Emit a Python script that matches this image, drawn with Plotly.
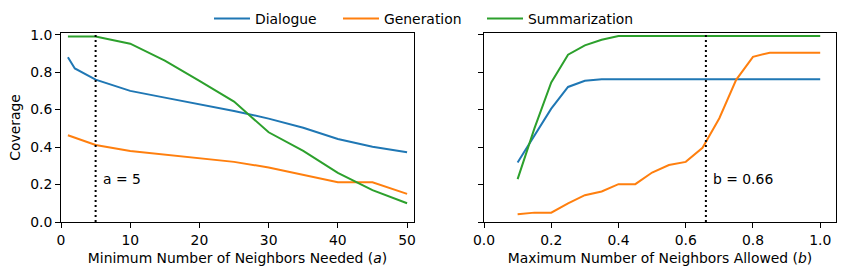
import plotly.graph_objects as go

# Left panel data: minimum number of neighbors needed (a)
a_values = [1, 2, 5, 10, 15, 20, 25, 30, 35, 40, 45, 50]
a_dialogue = [0.88, 0.82, 0.76, 0.70, 0.664, 0.628, 0.593, 0.552, 0.503, 0.443, 0.402, 0.372]
a_generation = [0.463, 0.45, 0.411, 0.379, 0.361, 0.343, 0.321, 0.291, 0.252, 0.212, 0.212, 0.15]
a_summarization = [0.99, 0.99, 0.99, 0.952, 0.862, 0.754, 0.643, 0.479, 0.38, 0.262, 0.17, 0.10]

# Right panel data: maximum number of neighbors allowed (b)
b_values = [0.1, 0.15, 0.2, 0.25, 0.3, 0.35, 0.4, 0.45, 0.5, 0.55, 0.6, 0.65,
            0.7, 0.75, 0.8, 0.85, 0.9, 0.95, 1.0]
b_dialogue = [0.318, 0.46, 0.605, 0.721, 0.754, 0.762, 0.762, 0.762, 0.762, 0.762,
              0.762, 0.762, 0.762, 0.762, 0.762, 0.762, 0.762, 0.762, 0.762]
b_generation = [0.041, 0.05, 0.05, 0.10, 0.143, 0.163, 0.202, 0.202, 0.264, 0.304,
                0.321, 0.396, 0.554, 0.759, 0.882, 0.904, 0.904, 0.904, 0.904]
b_summarization = [0.229, 0.50, 0.745, 0.893, 0.943, 0.973, 0.993, 0.993, 0.993, 0.993,
                   0.993, 0.993, 0.993, 0.993, 0.993, 0.993, 0.993, 0.993, 0.993]

A_CHOSEN = 5
B_CHOSEN = 0.66

series_names = ["Dialogue", "Generation", "Summarization"]
colors = ["#1f77b4", "#ff7f0e", "#2ca02c"]
legend_ids = ["legend", "legend2", "legend3"]

W, H = 849, 279
legend_x = [209 / W, 338 / W, 482 / W]  # left edge of each legend entry (paper fraction)
FONT = "DejaVu Sans"
FS = 13.9
fig = go.Figure()

for name, color, ys, lg in zip(series_names, colors, [a_dialogue, a_generation, a_summarization], legend_ids):
    fig.add_trace(go.Scatter(x=a_values, y=ys, mode="lines", name=name,
                             line=dict(color=color, width=2), xaxis="x", yaxis="y",
                             legendgroup=name, legend=lg))
for name, color, ys in zip(series_names, colors, [b_dialogue, b_generation, b_summarization]):
    fig.add_trace(go.Scatter(x=b_values, y=ys, mode="lines", name=name,
                             line=dict(color=color, width=2), xaxis="x2", yaxis="y2",
                             legendgroup=name, showlegend=False))

fig.add_shape(type="line", xref="x", yref="y domain", x0=A_CHOSEN, x1=A_CHOSEN, y0=0, y1=1,
              line=dict(color="black", width=2, dash="2px,3px"))
fig.add_shape(type="line", xref="x2", yref="y2 domain", x0=B_CHOSEN, x1=B_CHOSEN, y0=0, y1=1,
              line=dict(color="black", width=2, dash="2px,3px"))

fig.add_annotation(x=A_CHOSEN + 1, y=0.2, xref="x", yref="y", text=f"a = {A_CHOSEN}",
                   showarrow=False, xanchor="left", yanchor="bottom", xshift=-2, yshift=-4,
                   font=dict(family=FONT, size=FS, color="black"))
fig.add_annotation(x=B_CHOSEN + 0.02, y=0.2, xref="x2", yref="y2", text=f"b = {B_CHOSEN}",
                   showarrow=False, xanchor="left", yanchor="bottom", xshift=-2, yshift=-4,
                   font=dict(family=FONT, size=FS, color="black"))

axis_common = dict(showline=True, linecolor="black", linewidth=1, mirror=True,
                   ticks="outside", ticklen=5, tickcolor="black", showgrid=False,
                   zeroline=False, automargin=False,
                   tickfont=dict(family=FONT, size=FS, color="black"))

legend_common = dict(orientation="h", xanchor="left", y=1 - 19 / H, yanchor="middle",
                     font=dict(family=FONT, size=FS, color="black"),
                     bgcolor="rgba(0,0,0,0)", itemwidth=36)

fig.update_layout(
    width=W, height=H,
    margin=dict(l=0, r=0, t=0, b=0, autoexpand=False),
    paper_bgcolor="white", plot_bgcolor="white",
    font=dict(family=FONT, size=FS, color="black"),
    showlegend=True,
    legend=dict(x=legend_x[0], **legend_common),
    legend2=dict(x=legend_x[1], **legend_common),
    legend3=dict(x=legend_x[2], **legend_common),
    xaxis=dict(domain=[61 / W, 414 / W], range=[0, 51], tickvals=[0, 10, 20, 30, 40, 50],
               title=dict(text="Minimum Number of Neighbors Needed (<i>a</i>)", standoff=6,
                          font=dict(family=FONT, size=FS)),
               anchor="y", **axis_common),
    yaxis=dict(domain=[1 - 222 / H, 1 - 33 / H], range=[0, 1.009],
               tickvals=[0, 0.2, 0.4, 0.6, 0.8, 1.0], tickformat=".1f",
               title=dict(text="Coverage", standoff=6, font=dict(family=FONT, size=FS)),
               anchor="x", **axis_common),
    xaxis2=dict(domain=[484 / W, 836 / W], range=[0, 1.047],
                tickvals=[0, 0.2, 0.4, 0.6, 0.8, 1.0], tickformat=".1f",
                title=dict(text="Maximum Number of Neighbors Allowed (<i>b</i>)", standoff=6,
                           font=dict(family=FONT, size=FS)),
                anchor="y2", **axis_common),
    yaxis2=dict(domain=[1 - 222 / H, 1 - 33 / H], range=[0, 1.009],
                tickvals=[0, 0.2, 0.4, 0.6, 0.8, 1.0], showticklabels=False,
                anchor="x2", **axis_common),
)

fig.write_html("out.html", config={"displayModeBar": False},
               post_script="document.body.style.margin='0';")
